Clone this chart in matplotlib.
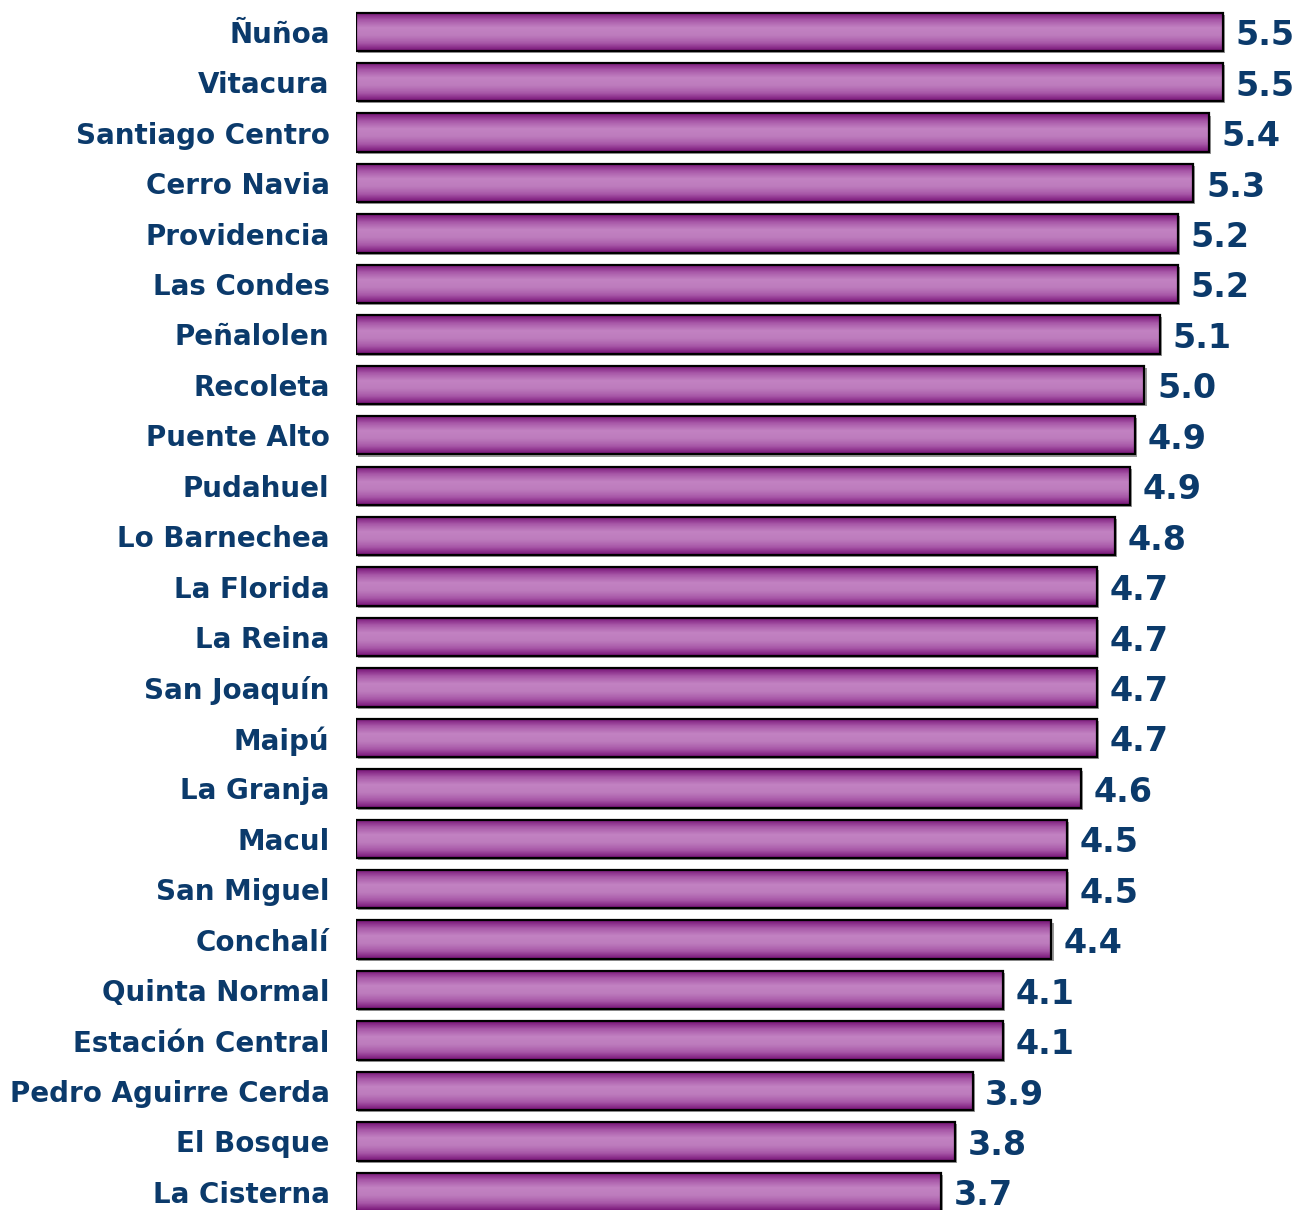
import numpy as np
import matplotlib
matplotlib.use("Agg")
import matplotlib.pyplot as plt
import matplotlib.patheffects as pe
from matplotlib.colors import LinearSegmentedColormap

# comunas, de arriba hacia abajo
comunas = ["Ñuñoa", "Vitacura", "Santiago Centro", "Cerro Navia", "Providencia",
           "Las Condes", "Peñalolen", "Recoleta", "Puente Alto", "Pudahuel",
           "Lo Barnechea", "La Florida", "La Reina", "San Joaquín", "Maipú",
           "La Granja", "Macul", "San Miguel", "Conchalí", "Quinta Normal",
           "Estación Central", "Pedro Aguirre Cerda", "El Bosque", "La Cisterna"]
valores = [5.5, 5.5, 5.41, 5.31, 5.21, 5.21, 5.1, 5.0, 4.94, 4.91,
           4.81, 4.7, 4.7, 4.7, 4.7, 4.6, 4.51, 4.51, 4.41, 4.1,
           4.1, 3.91, 3.8, 3.71]

azul = "#0b3a6b"
grad = LinearSegmentedColormap.from_list("barra", ["#761276", "#a858a8", "#c282c2", "#bd7cbd", "#a858a8", "#761276"])

fig = plt.figure(figsize=(12.99, 12.10), dpi=100)
ax = fig.add_axes([356 / 1299, 0, 943 / 1299, 1])

y = np.arange(len(comunas))
bars = ax.barh(y, valores, height=0.76, color="#a758a7", zorder=1,
               path_effects=[pe.SimplePatchShadow(offset=(1.5, -1.5), shadow_rgbFace="#999999", alpha=1), pe.Normal()])

# degradado vertical dentro de cada barra
g = np.linspace(0, 1, 64).reshape(-1, 1)
for b in bars:
    x0, y0, w, h = b.get_x(), b.get_y(), b.get_width(), b.get_height()
    ax.imshow(g, cmap=grad, extent=(x0, x0 + w, y0 + h, y0), aspect="auto", zorder=2, interpolation="bilinear")

ax.barh(y, valores, height=0.76, fill=False, edgecolor="black", linewidth=1.6, zorder=3)

for i, v in enumerate(valores):
    ax.text(v + 0.08, i + 0.08, f"{v:.1f}", va="center", ha="left", fontsize=24,
            fontweight="bold", color=azul)

ax.set_yticks(y)
ax.set_yticklabels(comunas, fontsize=20, fontweight="bold", color=azul)
ax.tick_params(axis="y", length=0, pad=19)
ax.set_xticks([])
for s in ax.spines.values():
    s.set_visible(False)

ax.set_xlim(0, 5.98)
ax.set_ylim(23.36, -0.63)

plt.savefig("out.png", dpi=100)
